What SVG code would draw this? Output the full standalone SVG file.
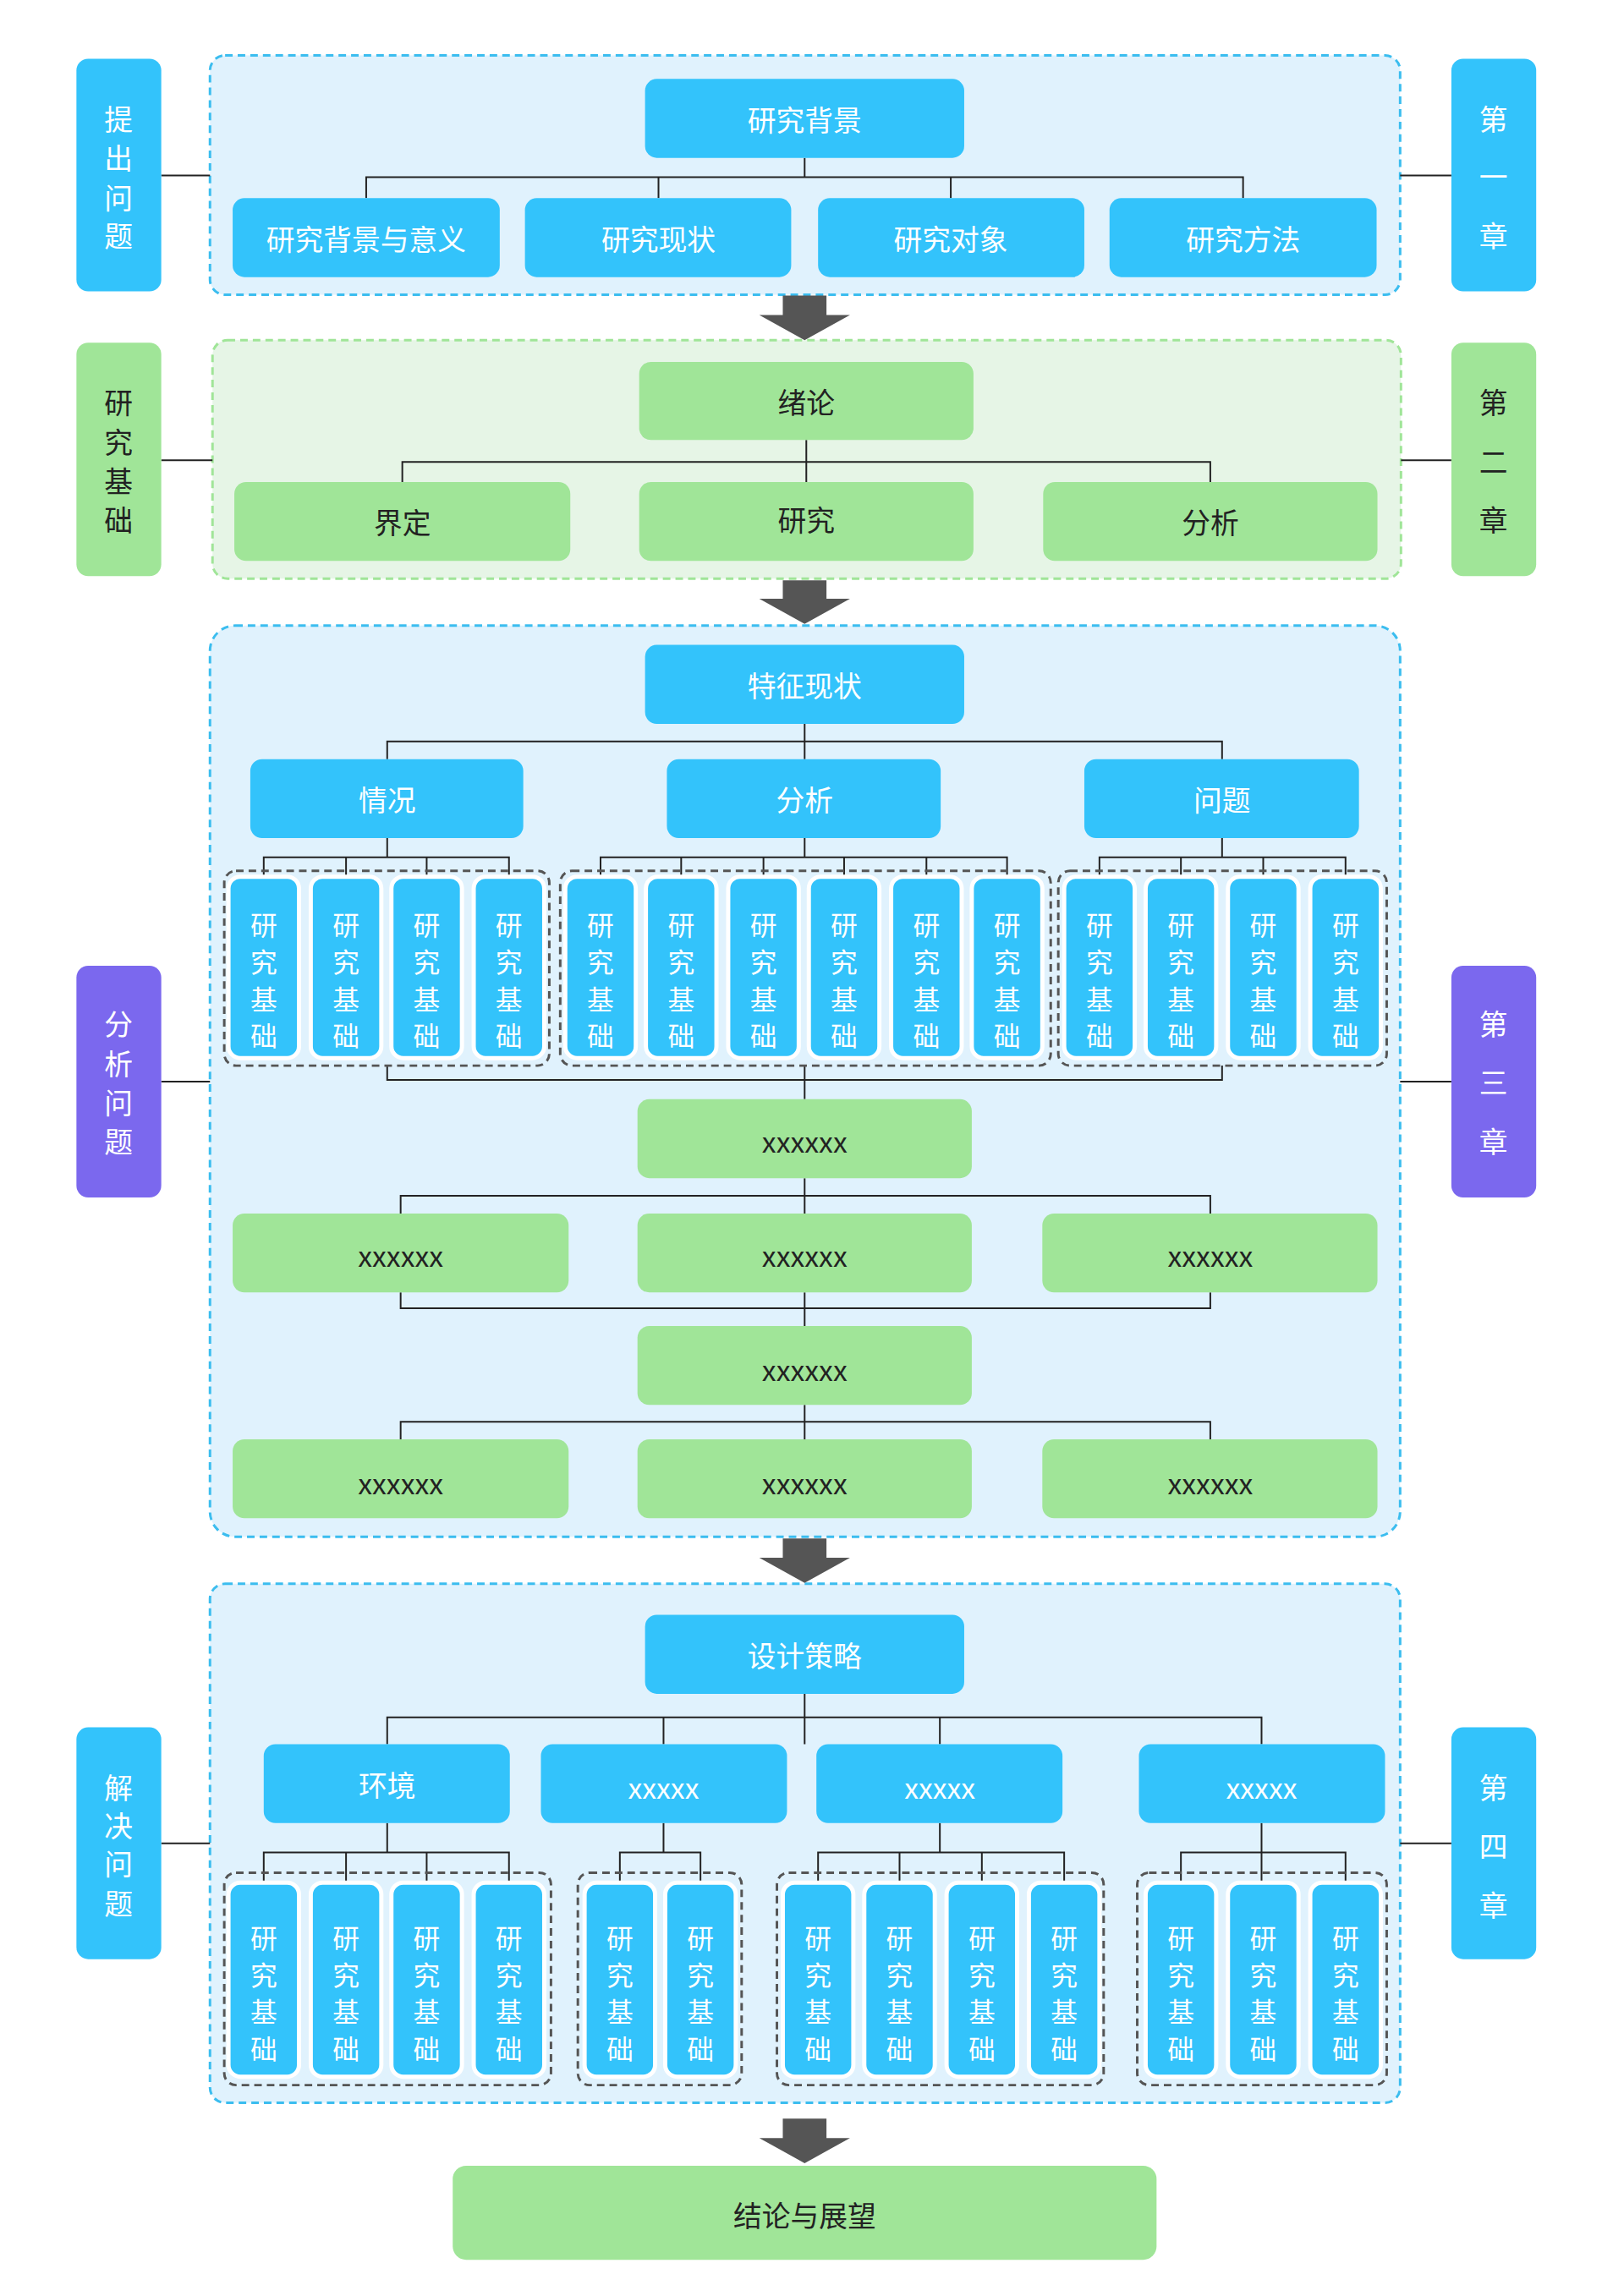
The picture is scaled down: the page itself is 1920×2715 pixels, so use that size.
<svg xmlns="http://www.w3.org/2000/svg" width="1920" height="2715" viewBox="0 0 1920 2715">
<style>
text{font-family:"Noto Sans CJK SC","Noto Sans",sans-serif;text-anchor:middle;dominant-baseline:central}
.b{fill:#33C3FB}.g{fill:#A0E598}.p{fill:#7B68EE}
.tw{fill:#fff;font-size:34px}.tk{fill:#222;font-size:34px}
.lw{fill:#fff;font-size:34px}.lk{fill:#222;font-size:34px}
.leaf{fill:#33C3FB;stroke:#fff;stroke-width:5}
.lt{fill:#fff;font-size:32px}
.grp{fill:none;stroke:#555;stroke-width:3;stroke-dasharray:9 6}
.sb{fill:#E0F2FD;stroke:#3BBDEF;stroke-width:3;stroke-dasharray:9 6}
.sg{fill:#E6F5E6;stroke:#A0E598;stroke-width:3;stroke-dasharray:9 6}
.c{fill:none;stroke:#222;stroke-width:2}
.ar{fill:#555}
</style>
<g transform="scale(0.993)">
<rect class="sb" x="250" y="66" width="1417" height="285" rx="18"/>
<rect class="sg" x="253" y="405" width="1415" height="284" rx="18"/>
<rect class="sb" x="250" y="745" width="1417" height="1085" rx="30"/>
<rect class="sb" x="250" y="1886" width="1417" height="618" rx="18"/>
<g id="arrows">
<path class="ar" d="M932 352h52v23h28l-54 30-54-30h28z"/>
<path class="ar" d="M932 691h52v22h28l-54 30-54-30h28z"/>
<path class="ar" d="M932 1832h52v23h28l-54 30-54-30h28z"/>
<path class="ar" d="M932 2523h52v23h28l-54 30-54-30h28z"/>
</g>
<g id="connectors">
<path class="c" d="M192 209H250M1667 209H1728M192 548H253M1668 548H1728M192 1288H250M1667 1288H1728M192 2195H250M1667 2195H1728"/>
<path class="c" d="M958 188V211M436 236V211H1480V236M784 211V236M1132 211V236"/>
<path class="c" d="M960 524V574M479 574V550H1441V574"/>
<path class="c" d="M958 862V883M461 904V883H1455V904M958 883V904"/>
<path class="c" d="M461 998V1021M314 1044V1021H606V1044M412 1021V1044M508 1021V1044"/>
<path class="c" d="M958 998V1021M715 1044V1021H1199V1044M811 1021V1044M909 1021V1044M1005 1021V1044M1103 1021V1044"/>
<path class="c" d="M1455 998V1021M1309 1044V1021H1602V1044M1406 1021V1044M1504 1021V1044"/>
<path class="c" d="M461 1269V1286H1455V1269M958 1269V1309"/>
<path class="c" d="M958 1403V1445M477 1445V1424H1441V1445"/>
<path class="c" d="M477 1539V1558H1441V1539M958 1539V1579"/>
<path class="c" d="M958 1673V1714M477 1714V1693H1441V1714"/>
<path class="c" d="M958 2017V2077M461 2077V2045H1502V2077M790 2045V2077M1119 2045V2077"/>
<path class="c" d="M461 2171V2206M314 2242V2206H606V2242M412 2206V2242M508 2206V2242"/>
<path class="c" d="M790 2171V2206M738 2242V2206H834V2242"/>
<path class="c" d="M1119 2171V2206M974 2242V2206H1267V2242M1071 2206V2242M1169 2206V2242"/>
<path class="c" d="M1502 2171V2242M1406 2242V2206H1602V2242"/>
</g>
<g id="label1"><rect class="b" x="91" y="70" width="101" height="277" rx="14"/><text class="lw" x="141" y="140">提</text><text class="lw" x="141" y="187">出</text><text class="lw" x="141" y="234">问</text><text class="lw" x="141" y="279">题</text></g>
<g id="ch1"><rect class="b" x="1728" y="70" width="101" height="277" rx="14"/><text class="lw" x="1778" y="140">第</text><text class="lw" x="1778" y="209">一</text><text class="lw" x="1778" y="279">章</text></g>
<g id="label2"><rect class="g" x="91" y="408" width="101" height="278" rx="14"/><text class="lk" x="141" y="478">研</text><text class="lk" x="141" y="525">究</text><text class="lk" x="141" y="571">基</text><text class="lk" x="141" y="618">础</text></g>
<g id="ch2"><rect class="g" x="1728" y="408" width="101" height="278" rx="14"/><text class="lk" x="1778" y="478">第</text><text class="lk" x="1778" y="548">二</text><text class="lk" x="1778" y="618">章</text></g>
<g id="label3"><rect class="p" x="91" y="1150" width="101" height="276" rx="14"/><text class="lw" x="141" y="1218">分</text><text class="lw" x="141" y="1265">析</text><text class="lw" x="141" y="1312">问</text><text class="lw" x="141" y="1358">题</text></g>
<g id="ch3"><rect class="p" x="1728" y="1150" width="101" height="276" rx="14"/><text class="lw" x="1778" y="1218">第</text><text class="lw" x="1778" y="1288">三</text><text class="lw" x="1778" y="1358">章</text></g>
<g id="label4"><rect class="b" x="91" y="2057" width="101" height="276" rx="14"/><text class="lw" x="141" y="2127">解</text><text class="lw" x="141" y="2173">决</text><text class="lw" x="141" y="2218">问</text><text class="lw" x="141" y="2265">题</text></g>
<g id="ch4"><rect class="b" x="1728" y="2057" width="101" height="276" rx="14"/><text class="lw" x="1778" y="2127">第</text><text class="lw" x="1778" y="2197">四</text><text class="lw" x="1778" y="2267">章</text></g>
<g id="n1"><rect class="b" x="768" y="94" width="380" height="94" rx="14"/><text class="tw" x="958" y="141">研究背景</text></g>
<g id="n1a"><rect class="b" x="277" y="236" width="318" height="94" rx="14"/><text class="tw" x="436" y="283">研究背景与意义</text></g>
<g id="n1b"><rect class="b" x="625" y="236" width="317" height="94" rx="14"/><text class="tw" x="784" y="283">研究现状</text></g>
<g id="n1c"><rect class="b" x="974" y="236" width="317" height="94" rx="14"/><text class="tw" x="1132" y="283">研究对象</text></g>
<g id="n1d"><rect class="b" x="1321" y="236" width="318" height="94" rx="14"/><text class="tw" x="1480" y="283">研究方法</text></g>
<g id="n2"><rect class="g" x="761" y="431" width="398" height="93" rx="14"/><text class="tk" x="960" y="478">绪论</text></g>
<g id="n2a"><rect class="g" x="279" y="574" width="400" height="94" rx="14"/><text class="tk" x="479" y="621">界定</text></g>
<g id="n2b"><rect class="g" x="761" y="574" width="398" height="94" rx="14"/><text class="tk" x="960" y="618">研究</text></g>
<g id="n2c"><rect class="g" x="1242" y="574" width="398" height="94" rx="14"/><text class="tk" x="1441" y="621">分析</text></g>
<g id="n3"><rect class="b" x="768" y="768" width="380" height="94" rx="14"/><text class="tw" x="958" y="815">特征现状</text></g>
<g id="n3a"><rect class="b" x="298" y="904" width="325" height="94" rx="14"/><text class="tw" x="461" y="951">情况</text></g>
<g id="n3b"><rect class="b" x="794" y="904" width="326" height="94" rx="14"/><text class="tw" x="958" y="951">分析</text></g>
<g id="n3c"><rect class="b" x="1291" y="904" width="327" height="94" rx="14"/><text class="tw" x="1455" y="951">问题</text></g>
<g id="groups3"><rect class="grp" x="267" y="1037" width="387" height="232" rx="14"/><rect class="grp" x="667" y="1037" width="584" height="232" rx="14"/><rect class="grp" x="1260" y="1037" width="391" height="232" rx="14"/></g>
<g id="leaves3">
<g><rect class="leaf" x="272" y="1044" width="84" height="216" rx="14"/><text class="lt"><tspan x="314" y="1100">研</tspan><tspan x="314" y="1144">究</tspan><tspan x="314" y="1188">基</tspan><tspan x="314" y="1232">础</tspan></text></g>
<g><rect class="leaf" x="370" y="1044" width="84" height="216" rx="14"/><text class="lt"><tspan x="412" y="1100">研</tspan><tspan x="412" y="1144">究</tspan><tspan x="412" y="1188">基</tspan><tspan x="412" y="1232">础</tspan></text></g>
<g><rect class="leaf" x="466" y="1044" width="84" height="216" rx="14"/><text class="lt"><tspan x="508" y="1100">研</tspan><tspan x="508" y="1144">究</tspan><tspan x="508" y="1188">基</tspan><tspan x="508" y="1232">础</tspan></text></g>
<g><rect class="leaf" x="564" y="1044" width="84" height="216" rx="14"/><text class="lt"><tspan x="606" y="1100">研</tspan><tspan x="606" y="1144">究</tspan><tspan x="606" y="1188">基</tspan><tspan x="606" y="1232">础</tspan></text></g>
<g><rect class="leaf" x="673" y="1044" width="84" height="216" rx="14"/><text class="lt"><tspan x="715" y="1100">研</tspan><tspan x="715" y="1144">究</tspan><tspan x="715" y="1188">基</tspan><tspan x="715" y="1232">础</tspan></text></g>
<g><rect class="leaf" x="769" y="1044" width="84" height="216" rx="14"/><text class="lt"><tspan x="811" y="1100">研</tspan><tspan x="811" y="1144">究</tspan><tspan x="811" y="1188">基</tspan><tspan x="811" y="1232">础</tspan></text></g>
<g><rect class="leaf" x="867" y="1044" width="84" height="216" rx="14"/><text class="lt"><tspan x="909" y="1100">研</tspan><tspan x="909" y="1144">究</tspan><tspan x="909" y="1188">基</tspan><tspan x="909" y="1232">础</tspan></text></g>
<g><rect class="leaf" x="963" y="1044" width="84" height="216" rx="14"/><text class="lt"><tspan x="1005" y="1100">研</tspan><tspan x="1005" y="1144">究</tspan><tspan x="1005" y="1188">基</tspan><tspan x="1005" y="1232">础</tspan></text></g>
<g><rect class="leaf" x="1061" y="1044" width="84" height="216" rx="14"/><text class="lt"><tspan x="1103" y="1100">研</tspan><tspan x="1103" y="1144">究</tspan><tspan x="1103" y="1188">基</tspan><tspan x="1103" y="1232">础</tspan></text></g>
<g><rect class="leaf" x="1157" y="1044" width="84" height="216" rx="14"/><text class="lt"><tspan x="1199" y="1100">研</tspan><tspan x="1199" y="1144">究</tspan><tspan x="1199" y="1188">基</tspan><tspan x="1199" y="1232">础</tspan></text></g>
<g><rect class="leaf" x="1267" y="1044" width="84" height="216" rx="14"/><text class="lt"><tspan x="1309" y="1100">研</tspan><tspan x="1309" y="1144">究</tspan><tspan x="1309" y="1188">基</tspan><tspan x="1309" y="1232">础</tspan></text></g>
<g><rect class="leaf" x="1364" y="1044" width="84" height="216" rx="14"/><text class="lt"><tspan x="1406" y="1100">研</tspan><tspan x="1406" y="1144">究</tspan><tspan x="1406" y="1188">基</tspan><tspan x="1406" y="1232">础</tspan></text></g>
<g><rect class="leaf" x="1462" y="1044" width="84" height="216" rx="14"/><text class="lt"><tspan x="1504" y="1100">研</tspan><tspan x="1504" y="1144">究</tspan><tspan x="1504" y="1188">基</tspan><tspan x="1504" y="1232">础</tspan></text></g>
<g><rect class="leaf" x="1560" y="1044" width="84" height="216" rx="14"/><text class="lt"><tspan x="1602" y="1100">研</tspan><tspan x="1602" y="1144">究</tspan><tspan x="1602" y="1188">基</tspan><tspan x="1602" y="1232">础</tspan></text></g>
</g>
<g id="x1"><rect class="g" x="759" y="1309" width="398" height="94" rx="14"/><text class="tk" x="958" y="1358">xxxxxx</text></g>
<g id="x2"><rect class="g" x="277" y="1445" width="400" height="94" rx="14"/><text class="tk" x="477" y="1494">xxxxxx</text></g>
<g id="x3"><rect class="g" x="759" y="1445" width="398" height="94" rx="14"/><text class="tk" x="958" y="1494">xxxxxx</text></g>
<g id="x4"><rect class="g" x="1241" y="1445" width="399" height="94" rx="14"/><text class="tk" x="1441" y="1494">xxxxxx</text></g>
<g id="x5"><rect class="g" x="759" y="1579" width="398" height="94" rx="14"/><text class="tk" x="958" y="1630">xxxxxx</text></g>
<g id="x6"><rect class="g" x="277" y="1714" width="400" height="94" rx="14"/><text class="tk" x="477" y="1765">xxxxxx</text></g>
<g id="x7"><rect class="g" x="759" y="1714" width="398" height="94" rx="14"/><text class="tk" x="958" y="1765">xxxxxx</text></g>
<g id="x8"><rect class="g" x="1241" y="1714" width="399" height="94" rx="14"/><text class="tk" x="1441" y="1765">xxxxxx</text></g>
<g id="n4"><rect class="b" x="768" y="1923" width="380" height="94" rx="14"/><text class="tw" x="958" y="1970">设计策略</text></g>
<g id="n4a"><rect class="b" x="314" y="2077" width="293" height="94" rx="14"/><text class="tw" x="461" y="2124">环境</text></g>
<g id="n4b"><rect class="b" x="644" y="2077" width="293" height="94" rx="14"/><text class="tw" x="790" y="2127">xxxxx</text></g>
<g id="n4c"><rect class="b" x="972" y="2077" width="293" height="94" rx="14"/><text class="tw" x="1119" y="2127">xxxxx</text></g>
<g id="n4d"><rect class="b" x="1356" y="2077" width="293" height="94" rx="14"/><text class="tw" x="1502" y="2127">xxxxx</text></g>
<g id="groups4"><rect class="grp" x="267" y="2230" width="389" height="253" rx="14"/><rect class="grp" x="688" y="2230" width="195" height="253" rx="14"/><rect class="grp" x="925" y="2230" width="389" height="253" rx="14"/><rect class="grp" x="1354" y="2230" width="297" height="253" rx="14"/></g>
<g id="leaves4">
<g><rect class="leaf" x="272" y="2242" width="84" height="231" rx="14"/><text class="lt"><tspan x="314" y="2306">研</tspan><tspan x="314" y="2350">究</tspan><tspan x="314" y="2394">基</tspan><tspan x="314" y="2438">础</tspan></text></g>
<g><rect class="leaf" x="370" y="2242" width="84" height="231" rx="14"/><text class="lt"><tspan x="412" y="2306">研</tspan><tspan x="412" y="2350">究</tspan><tspan x="412" y="2394">基</tspan><tspan x="412" y="2438">础</tspan></text></g>
<g><rect class="leaf" x="466" y="2242" width="84" height="231" rx="14"/><text class="lt"><tspan x="508" y="2306">研</tspan><tspan x="508" y="2350">究</tspan><tspan x="508" y="2394">基</tspan><tspan x="508" y="2438">础</tspan></text></g>
<g><rect class="leaf" x="564" y="2242" width="84" height="231" rx="14"/><text class="lt"><tspan x="606" y="2306">研</tspan><tspan x="606" y="2350">究</tspan><tspan x="606" y="2394">基</tspan><tspan x="606" y="2438">础</tspan></text></g>
<g><rect class="leaf" x="696" y="2242" width="84" height="231" rx="14"/><text class="lt"><tspan x="738" y="2306">研</tspan><tspan x="738" y="2350">究</tspan><tspan x="738" y="2394">基</tspan><tspan x="738" y="2438">础</tspan></text></g>
<g><rect class="leaf" x="792" y="2242" width="84" height="231" rx="14"/><text class="lt"><tspan x="834" y="2306">研</tspan><tspan x="834" y="2350">究</tspan><tspan x="834" y="2394">基</tspan><tspan x="834" y="2438">础</tspan></text></g>
<g><rect class="leaf" x="932" y="2242" width="84" height="231" rx="14"/><text class="lt"><tspan x="974" y="2306">研</tspan><tspan x="974" y="2350">究</tspan><tspan x="974" y="2394">基</tspan><tspan x="974" y="2438">础</tspan></text></g>
<g><rect class="leaf" x="1029" y="2242" width="84" height="231" rx="14"/><text class="lt"><tspan x="1071" y="2306">研</tspan><tspan x="1071" y="2350">究</tspan><tspan x="1071" y="2394">基</tspan><tspan x="1071" y="2438">础</tspan></text></g>
<g><rect class="leaf" x="1127" y="2242" width="84" height="231" rx="14"/><text class="lt"><tspan x="1169" y="2306">研</tspan><tspan x="1169" y="2350">究</tspan><tspan x="1169" y="2394">基</tspan><tspan x="1169" y="2438">础</tspan></text></g>
<g><rect class="leaf" x="1225" y="2242" width="84" height="231" rx="14"/><text class="lt"><tspan x="1267" y="2306">研</tspan><tspan x="1267" y="2350">究</tspan><tspan x="1267" y="2394">基</tspan><tspan x="1267" y="2438">础</tspan></text></g>
<g><rect class="leaf" x="1364" y="2242" width="84" height="231" rx="14"/><text class="lt"><tspan x="1406" y="2306">研</tspan><tspan x="1406" y="2350">究</tspan><tspan x="1406" y="2394">基</tspan><tspan x="1406" y="2438">础</tspan></text></g>
<g><rect class="leaf" x="1462" y="2242" width="84" height="231" rx="14"/><text class="lt"><tspan x="1504" y="2306">研</tspan><tspan x="1504" y="2350">究</tspan><tspan x="1504" y="2394">基</tspan><tspan x="1504" y="2438">础</tspan></text></g>
<g><rect class="leaf" x="1560" y="2242" width="84" height="231" rx="14"/><text class="lt"><tspan x="1602" y="2306">研</tspan><tspan x="1602" y="2350">究</tspan><tspan x="1602" y="2394">基</tspan><tspan x="1602" y="2438">础</tspan></text></g>
</g>
<g id="final"><rect class="g" x="539" y="2579" width="838" height="112" rx="16"/><text class="tk" x="958" y="2637">结论与展望</text></g>
</g>
</svg>
